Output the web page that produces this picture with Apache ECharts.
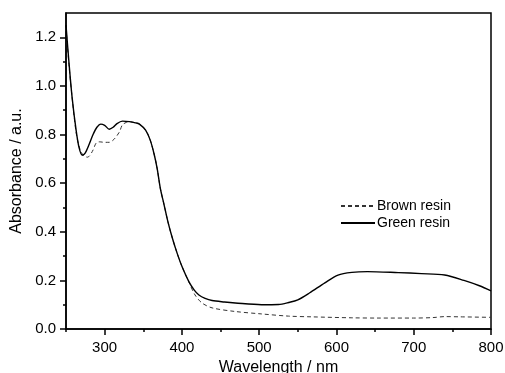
<!DOCTYPE html>
<html><head><meta charset="utf-8">
<script src="https://cdn.jsdelivr.net/npm/echarts@6/dist/echarts.min.js"></script>
<style>html,body{margin:0;padding:0;background:#fff}#c{width:505px;height:373px}</style>
</head><body><div id="c"></div>
<script>
const brownX = [250,254,258,263,268,273,278,284,289,293,300,306,312,319,323,328,332,340,345,353,359,364,368,372,377,382,388,394,400,409,417,426,439,469,503,538,568,620,655,700,725,740,760,800];
const brownY = [1.24,1.08,0.95,0.81,0.74,0.712,0.707,0.73,0.765,0.77,0.768,0.768,0.78,0.81,0.84,0.85,0.853,0.848,0.843,0.818,0.777,0.72,0.66,0.58,0.51,0.44,0.37,0.31,0.258,0.193,0.14,0.107,0.087,0.072,0.062,0.053,0.05,0.046,0.045,0.045,0.047,0.051,0.05,0.048];
const greenX = [250,254,258,263,267,271,275,280,285,290,295,300,306,311,316,323,332,340,345,353,359,364,368,372,377,382,388,394,400,409,416,422,430,439,455,469,503,525,538,550,565,585,602,620,640,680,710,740,765,785,800];
const greenY = [1.25,1.09,0.95,0.82,0.745,0.715,0.725,0.76,0.80,0.83,0.843,0.838,0.822,0.83,0.845,0.855,0.853,0.848,0.843,0.818,0.777,0.72,0.66,0.58,0.51,0.44,0.37,0.31,0.258,0.195,0.16,0.14,0.126,0.117,0.111,0.107,0.1,0.101,0.109,0.12,0.148,0.19,0.222,0.233,0.236,0.232,0.228,0.222,0.2,0.178,0.157];
const xMajor = [300,400,500,600,700,800];
const xMinor = [250,350,450,550,650,750];
const yMajor = [0,0.2,0.4,0.6,0.8,1.0,1.2];
const yMinor = [0.1,0.3,0.5,0.7,0.9,1.1];
const seriesNames = ['Brown resin','Green resin'];

const pair = (xs, ys) => xs.map((x,i)=>[x, ys[i]]);
const font = 'Liberation Sans, Arial, sans-serif';
const chart = echarts.init(document.getElementById('c'), null, {renderer:'canvas'});
chart.setOption({
  animation:false,
  grid:{left:66, right:14, top:13, bottom:44, outerBoundsMode:'none', containLabel:false,
    show:true, borderColor:'#000', borderWidth:1.5},
  legend:{orient:'vertical', left:335, top:194, itemGap:3, itemWidth:34, itemHeight:14,
    itemStyle:{opacity:0},
    textStyle:{fontFamily:font, fontSize:14, color:'#000', padding:[0,0,0,-3]},
    data:seriesNames},
  xAxis:[{type:'value', min:250, max:800, name:'Wavelength / nm', nameLocation:'middle', nameGap:31,
    nameTextStyle:{fontFamily:font, fontSize:16, color:'#000'},
    axisLine:{lineStyle:{color:'#000', width:1.5}},
    axisTick:{customValues:xMajor, length:6, lineStyle:{color:'#000', width:1.5}},
    axisLabel:{customValues:xMajor, fontFamily:font, fontSize:15, color:'#000', margin:11},
    splitLine:{show:false}},
   {type:'value', min:250, max:800, position:'bottom',
    axisLine:{show:false},
    axisTick:{customValues:xMinor, length:3, lineStyle:{color:'#000', width:1.5}},
    axisLabel:{show:false}, splitLine:{show:false}}],
  yAxis:[{type:'value', min:0, max:1.3, name:'Absorbance / a.u.', nameLocation:'middle', nameGap:38,
    nameTextStyle:{fontFamily:font, fontSize:16, color:'#000'},
    axisLine:{lineStyle:{color:'#000', width:1.5}},
    axisTick:{customValues:yMajor, length:6, lineStyle:{color:'#000', width:1.5}},
    axisLabel:{customValues:yMajor, formatter:v=>v.toFixed(1), fontFamily:font, fontSize:15, color:'#000', margin:10},
    splitLine:{show:false}},
   {type:'value', min:0, max:1.3, position:'left',
    axisLine:{show:false},
    axisTick:{customValues:yMinor, length:3, lineStyle:{color:'#000', width:1.5}},
    axisLabel:{show:false}, splitLine:{show:false}}],
  series:[
    {name:seriesNames[0], type:'line', xAxisIndex:0, yAxisIndex:0, data:pair(brownX, brownY), symbol:'none', smooth:0.3,
     lineStyle:{color:'#333', width:1, type:[4,3]}, itemStyle:{color:'#333'}},
    {name:seriesNames[1], type:'line', xAxisIndex:0, yAxisIndex:0, data:pair(greenX, greenY), symbol:'none', smooth:0.3,
     lineStyle:{color:'#000', width:1.4}, itemStyle:{color:'#000'}}
  ]
});
</script></body></html>
